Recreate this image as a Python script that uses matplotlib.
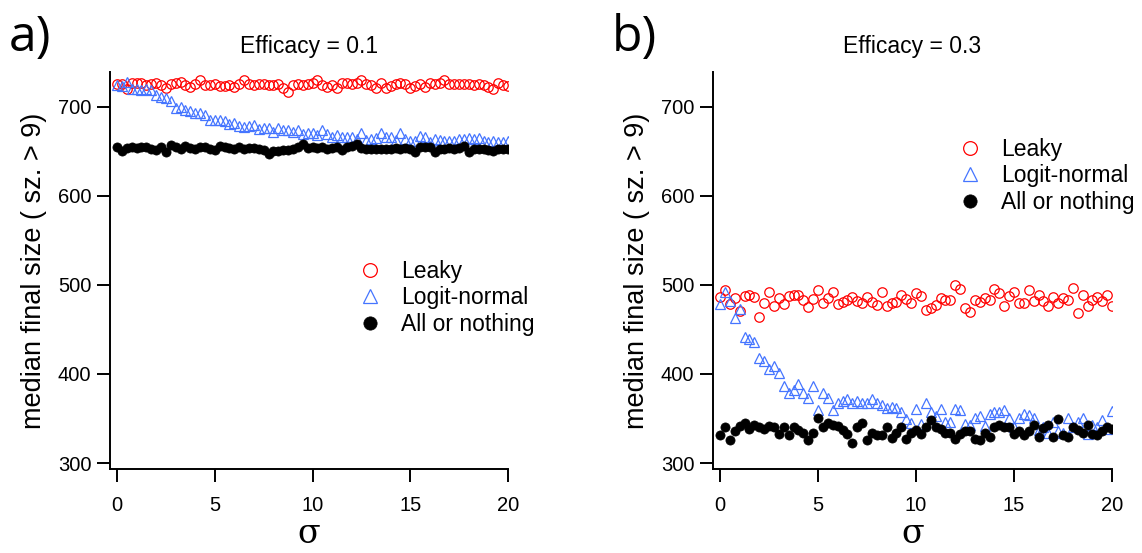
import numpy as np
import matplotlib
matplotlib.use("Agg")
import matplotlib.pyplot as plt

sigma = np.arange(0, 20.01, 0.25)

leaky_a = [725, 726, 720, 727, 727, 727, 724, 725, 727, 724,
           721, 725, 727, 728, 724, 722, 725, 730, 724, 724,
           725, 723, 723, 724, 722, 725, 730, 725, 724, 725,
           725, 724, 724, 725, 721, 717, 724, 726, 724, 726,
           727, 730, 724, 722, 724, 721, 727, 727, 725, 727,
           730, 725, 724, 721, 727, 721, 723, 725, 727, 725,
           721, 723, 726, 722, 727, 726, 727, 730, 725, 725,
           725, 725, 725, 724, 726, 724, 722, 720, 727, 724,
           723]
logit_a = [724, 723, 728, 720, 720, 719, 720, 719, 713, 711,
           710, 707, 699, 700, 696, 695, 693, 693, 691, 685,
           685, 685, 684, 681, 682, 678, 677, 678, 679, 675,
           676, 676, 672, 676, 674, 674, 672, 674, 669, 670,
           670, 668, 674, 669, 666, 668, 666, 666, 666, 664,
           671, 663, 664, 665, 670, 666, 666, 663, 670, 664,
           662, 661, 667, 666, 660, 664, 663, 662, 661, 662,
           664, 664, 665, 664, 665, 661, 660, 662, 660, 660,
           662]
allnone_a = [655, 650, 654, 655, 654, 655, 655, 652, 651, 655,
             649, 657, 655, 652, 656, 654, 652, 655, 655, 652,
             651, 656, 655, 654, 652, 655, 652, 654, 654, 652,
             651, 647, 650, 650, 651, 651, 652, 655, 658, 654,
             655, 654, 655, 652, 654, 655, 651, 655, 656, 658,
             654, 652, 652, 652, 652, 652, 652, 654, 652, 654,
             652, 649, 655, 655, 655, 649, 652, 652, 654, 652,
             654, 656, 649, 652, 652, 652, 651, 650, 652, 652,
             652]

leaky_b = [486, 494, 478, 485, 471, 487, 489, 486, 464, 480,
           492, 476, 485, 478, 487, 489, 489, 483, 475, 484,
           494, 480, 485, 492, 478, 481, 483, 486, 482, 480,
           486, 481, 477, 492, 476, 480, 481, 489, 484, 480,
           491, 488, 472, 474, 477, 485, 483, 483, 500, 495,
           474, 470, 483, 481, 485, 483, 495, 491, 476, 487,
           492, 480, 480, 494, 482, 489, 482, 476, 486, 480,
           485, 483, 496, 468, 489, 476, 483, 486, 482, 489,
           476]
logit_b = [478, 492, 482, 463, 473, 442, 439, 436, 418, 415,
           406, 409, 401, 386, 379, 382, 389, 379, 373, 386,
           359, 379, 373, 359, 367, 370, 372, 367, 370, 367,
           367, 372, 367, 365, 362, 363, 362, 357, 349, 345,
           361, 344, 367, 357, 353, 361, 346, 346, 361, 359,
           344, 343, 350, 353, 342, 355, 357, 357, 360, 350,
           340, 351, 355, 354, 350, 337, 340, 334, 346, 336,
           334, 351, 340, 346, 351, 333, 343, 340, 348, 338,
           358]
allnone_b = [331, 340, 326, 336, 342, 345, 338, 343, 341, 338,
             342, 341, 333, 340, 332, 340, 337, 334, 326, 334,
             350, 340, 345, 343, 342, 337, 333, 322, 340, 345,
             326, 334, 332, 332, 340, 328, 334, 340, 327, 334,
             337, 333, 341, 348, 341, 338, 334, 334, 327, 333,
             336, 336, 327, 326, 334, 329, 340, 343, 341, 340,
             333, 336, 332, 336, 343, 329, 339, 343, 329, 349,
             331, 329, 340, 337, 334, 343, 333, 332, 336, 340,
             338]

titles = ["Efficacy = 0.1", "Efficacy = 0.3"]
panel_labels = ["a)", "b)"]
series_names = ["Leaky", "Logit-normal", "All or nothing"]
yticks = [300, 400, 500, 600, 700]
xticks = [0, 5, 10, 15, 20]
ylabel = "median final size ( sz. > 9)"
xlabel = "σ"

plt.rcParams['font.family'] = ['Liberation Sans', 'DejaVu Sans']

fig = plt.figure(figsize=(11.42, 5.53), dpi=100)
W, H = 1142, 553
red = '#FF0000'
blue = '#4575FF'

def add_panel(left_px, right_px, data, title, plab, leg_xy):
    ax = fig.add_axes([left_px / W, 1 - 469 / H, (right_px - left_px) / W, (469 - 72) / H])
    leaky, logit, alln = data
    ax.plot(sigma, leaky, linestyle='none', marker='o', ms=6.8, mfc='none', mec=red, mew=0.9, label=series_names[0])
    ax.plot(sigma, logit, linestyle='none', marker='^', ms=7.3, mfc='none', mec=blue, mew=0.9, label=series_names[1])
    ax.plot(sigma, alln, linestyle='none', marker='o', ms=6.6, mfc='black', mec='black', mew=0.5, label=series_names[2])
    ax.set_xlim(-0.36, 20)
    ax.set_ylim(293.3, 739)
    ax.set_xticks(xticks)
    ax.set_yticks(yticks)
    for s in ['top', 'right']:
        ax.spines[s].set_visible(False)
    for s in ['left', 'bottom']:
        ax.spines[s].set_linewidth(1.4)
    ax.tick_params(direction='out', length=9.5, width=1.4, labelsize=14.5, pad=4)
    ax.tick_params(axis='x', pad=10)
    ax.set_title(title, fontsize=16.5, pad=14)
    ax.set_ylabel(ylabel, fontsize=19.5, labelpad=8)
    ax.set_xlabel(xlabel, fontsize=24, family=['DejaVu Serif'], labelpad=2)
    ax.legend(loc='upper left', bbox_to_anchor=(leg_xy[0] / W, 1 - leg_xy[1] / H),
              bbox_transform=fig.transFigure, frameon=False, fontsize=16.5,
              markerscale=1.45, handlelength=1.2, handletextpad=0.75,
              labelspacing=0.15, borderpad=0, borderaxespad=0)
    fig.text((left_px - 101) / W, 1 - 38 / H, plab, fontsize=36, family=['Open Sans'], va='center', ha='left')
    return ax

add_panel(110, 508, (leaky_a, logit_a, allnone_a), titles[0], panel_labels[0], (356, 260))
add_panel(713, 1112, (leaky_b, logit_b, allnone_b), titles[1], panel_labels[1], (956, 138))

fig.savefig("out.png", dpi=100)
